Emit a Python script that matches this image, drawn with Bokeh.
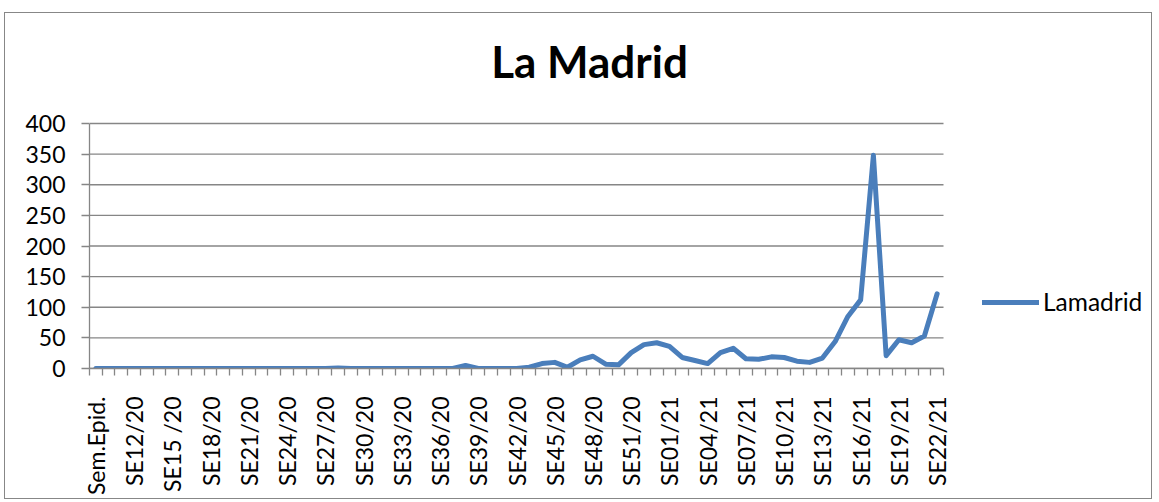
import math
from bokeh.plotting import figure
from bokeh.models import FixedTicker, Range1d, Legend, LegendItem, Label
from bokeh.embed import file_html
from bokeh.resources import INLINE

categories = [
    "Sem.Epid.",
    "SE10/20", "SE11/20", "SE12/20", "SE13/20", "SE14/20", "SE15 /20", "SE16/20", "SE17/20",
    "SE18/20", "SE19/20", "SE20/20", "SE21/20", "SE22/20", "SE23/20", "SE24/20", "SE25/20",
    "SE26/20", "SE27/20", "SE28/20", "SE29/20", "SE30/20", "SE31/20", "SE32/20", "SE33/20",
    "SE34/20", "SE35/20", "SE36/20", "SE37/20", "SE38/20", "SE39/20", "SE40/20", "SE41/20",
    "SE42/20", "SE43/20", "SE44/20", "SE45/20", "SE46/20", "SE47/20", "SE48/20", "SE49/20",
    "SE50/20", "SE51/20", "SE52/20", "SE53/20",
    "SE01/21", "SE02/21", "SE03/21", "SE04/21", "SE05/21", "SE06/21", "SE07/21", "SE08/21",
    "SE09/21", "SE10/21", "SE11/21", "SE12/21", "SE13/21", "SE14/21", "SE15/21", "SE16/21",
    "SE17/21", "SE18/21", "SE19/21", "SE20/21", "SE21/21", "SE22/21",
]

lamadrid = [
    0,
    0, 0, 0, 0, 0, 0, 0, 0,
    0, 0, 0, 0, 0, 0, 0, 0,
    0, 0, 1, 0, 0, 0, 0, 0,
    0, 0, 0, 0, 5, 0, 0, 0,
    0, 2, 8, 10, 2, 14, 20, 7,
    6, 26, 39, 42,
    36, 18, 13, 8, 26, 33, 16, 15,
    19, 18, 12, 10, 17, 44, 85, 112,
    348, 21, 47, 42, 53, 122,
]

series_name = "Lamadrid"
title_text = "La Madrid"
y_ticks = [0, 50, 100, 150, 200, 250, 300, 350, 400]
y_max = 400

FONT = "Lato"
GRAY = "#868686"
BLUE = "#4A7EBB"

n = len(categories)
xs = list(range(n))

# layout geometry (pixels)
W, H = 1148, 487
BL, BR, BT, BB = 84, 4, 4, 132
AXIS_W = 854          # pixel width of the category axis
AXIS_H = 245          # pixel height of the 0..400 value axis
FRAME_W = W - BL - BR
FRAME_H = H - BT - BB
x_start = -0.5
x_end = x_start + n * FRAME_W / AXIS_W
y_end = y_max * FRAME_H / AXIS_H
px_x = AXIS_W / n
px_y = AXIS_H / y_max

p = figure(
    width=W, height=H,
    output_backend="svg", toolbar_location=None,
    x_range=Range1d(x_start, x_end), y_range=Range1d(0, y_end),
    min_border_left=BL, min_border_right=BR,
    min_border_top=BT, min_border_bottom=BB,
)
p.styles = {"border": "1px solid #878787", "margin-top": "12px", "margin-left": "4px"}
p.outline_line_color = None
p.background_fill_color = "white"
p.border_fill_color = "white"

# title (placed above the value axis, centred on the chart area)
p.add_layout(Label(x=x_start + 500 / px_x, y=y_max + 63 / px_y, text=title_text,
                   text_align="center", text_baseline="alphabetic",
                   text_font=FONT, text_font_size="44px", text_font_style="bold",
                   text_color="black"))

# horizontal grid lines limited to the category axis extent
p.xgrid.visible = False
p.ygrid.visible = False
p.segment(x0=[-0.5] * len(y_ticks), x1=[n - 0.5] * len(y_ticks), y0=y_ticks, y1=y_ticks,
          line_color=GRAY, line_width=1.3)

# y axis
p.yaxis.ticker = FixedTicker(ticks=y_ticks)
p.yaxis.bounds = (0, y_max)
p.yaxis.axis_line_color = GRAY
p.yaxis.axis_line_width = 1.3
p.yaxis.major_tick_line_color = GRAY
p.yaxis.major_tick_line_width = 1.3
p.yaxis.major_tick_out = 8
p.yaxis.major_tick_in = 0
p.yaxis.minor_tick_line_color = None
p.yaxis.major_label_standoff = 16
p.yaxis.major_label_text_font = FONT
p.yaxis.major_label_text_font_size = "23px"
p.yaxis.major_label_text_color = "black"

# x axis
label_ticks = list(range(0, n, 3))
p.xaxis.ticker = FixedTicker(ticks=label_ticks, minor_ticks=[i - 0.5 for i in range(n + 1)])
p.xaxis.bounds = (-0.5, n - 0.5)
p.xaxis.major_label_overrides = {i: categories[i] for i in label_ticks}
p.xaxis.major_label_orientation = math.pi / 2
p.xaxis.axis_line_color = GRAY
p.xaxis.axis_line_width = 1.3
p.xaxis.major_tick_line_color = None
p.xaxis.major_tick_out = 0
p.xaxis.major_tick_in = 0
p.xaxis.minor_tick_line_color = GRAY
p.xaxis.minor_tick_line_width = 1.3
p.xaxis.minor_tick_out = 7
p.xaxis.minor_tick_in = 0
p.xaxis.major_label_standoff = 21
p.xaxis.major_label_text_font = FONT
p.xaxis.major_label_text_font_size = "23px"
p.xaxis.major_label_text_color = "black"

r = p.line(xs, lamadrid, line_color=BLUE, line_width=5,
           line_join="round", line_cap="round")

legend = Legend(items=[LegendItem(label=series_name, renderers=[r])],
                location=(893, 52), padding=0, margin=0, spacing=0,
                glyph_width=57, glyph_height=28, label_standoff=4,
                label_text_font=FONT, label_text_font_size="24.5px",
                label_text_color="black",
                border_line_color=None, background_fill_alpha=0)
p.add_layout(legend, "center")

open("out.html", "w").write(file_html(p, INLINE))
